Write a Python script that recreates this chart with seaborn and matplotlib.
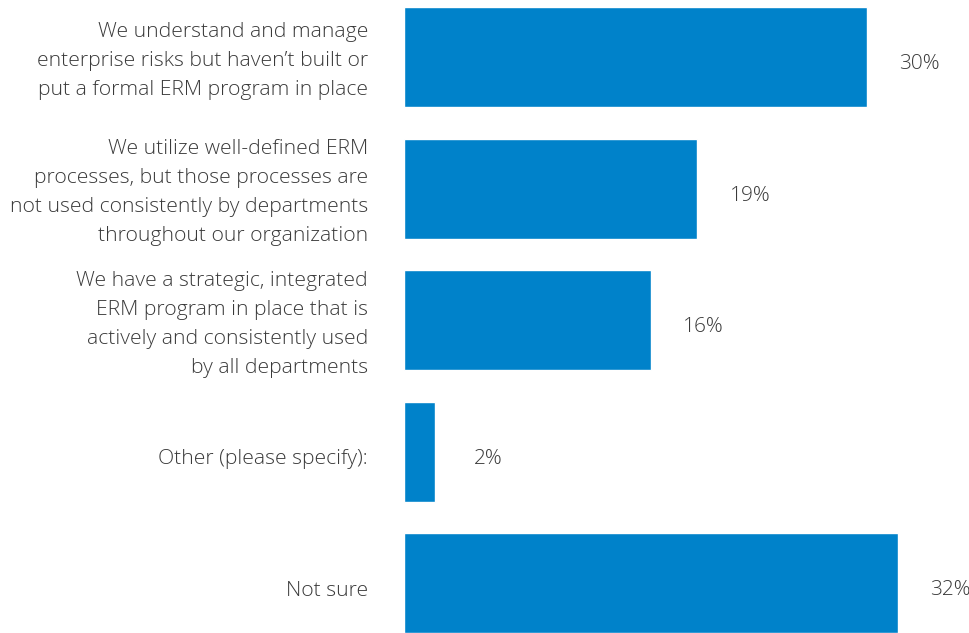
import matplotlib
matplotlib.use("Agg")
import matplotlib.pyplot as plt
import matplotlib.transforms as mtransforms
import seaborn as sns
import pandas as pd

categories = [
    "We understand and manage\nenterprise risks but haven\u2019t built or\nput a formal ERM program in place",
    "We utilize well-defined ERM\nprocesses, but those processes are\nnot used consistently by departments\nthroughout our organization",
    "We have a strategic, integrated\nERM program in place that is\nactively and consistently used\nby all departments",
    "Other (please specify):",
    "Not sure",
]
values = [30, 19, 16, 2, 32]
value_labels = ["30%", "19%", "16%", "2%", "32%"]

sns.set_theme(style="white")
plt.rcParams['font.family'] = ['Open Sans', 'DejaVu Sans']

df = pd.DataFrame({"category": categories, "value": values})

fig = plt.figure(figsize=(9.7, 6.33), dpi=100)
ax = fig.add_axes([404/970, 0, 566/970, 1])
sns.barplot(data=df, y="category", x="value", orient="h", color="#0082CA",
            saturation=1, width=0.76, ax=ax)

ax.set_xlim(0, 36.7)
ax.set_ylim(4.377, -0.433)
ax.set_xlabel("")
ax.set_ylabel("")
ax.set_xticks([])
for s in ax.spines.values():
    s.set_visible(False)

ax.tick_params(axis="y", length=0, pad=26)
for lbl in ax.get_yticklabels():
    lbl.set_fontsize(15.2)
    lbl.set_color("#3a3a3a")
    lbl.set_fontweight("light")
    lbl.set_linespacing(1.6)
    lbl.set_horizontalalignment("right")
    lbl.set_multialignment("right")
    dy = 3 if "\n" in lbl.get_text() else -5
    shift = mtransforms.ScaledTranslation(0, dy/100, fig.dpi_scale_trans)
    lbl.set_transform(lbl.get_transform() + shift)

for i, (v, t) in enumerate(zip(values, value_labels)):
    ax.annotate(t, xy=(v, i), xytext=(53, -7), textcoords="offset pixels",
                ha="center", va="center", fontsize=15, color="#3a3a3a",
                fontweight="light")

fig.savefig("out.png", dpi=100)
